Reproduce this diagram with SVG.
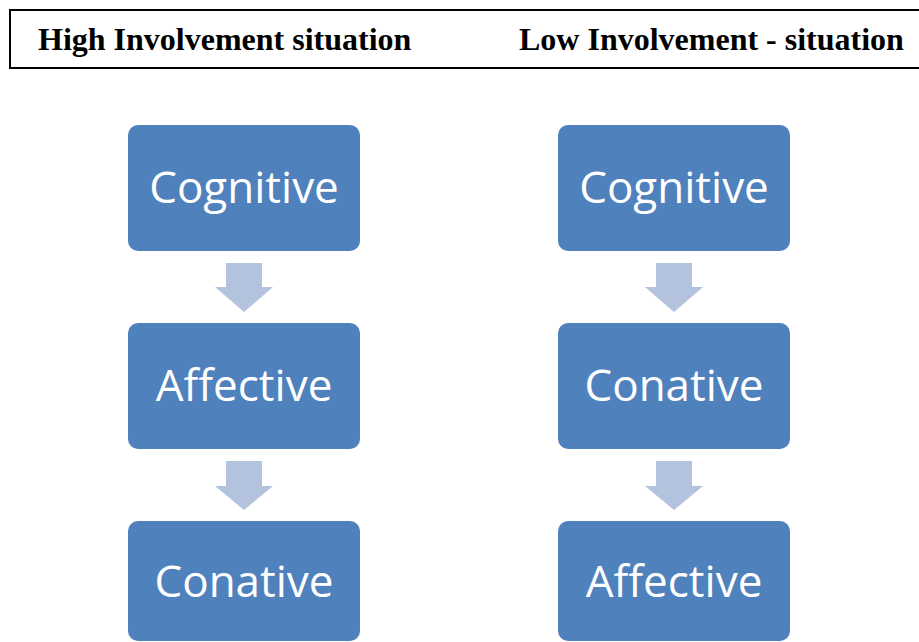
<svg xmlns="http://www.w3.org/2000/svg" width="919" height="642" viewBox="0 0 919 642">
<style>
.hdr{font-family:"Liberation Serif","Times New Roman",serif;font-weight:bold;font-size:32px;fill:#000}
.box{fill:#4F81BD}
.lbl{font-family:"Open Sans","Noto Sans",sans-serif;font-size:44px;fill:#fff;text-anchor:middle}
.arr{fill:#B3C3DD}
</style>
<rect width="919" height="642" fill="#fff"/>
<g id="header">
<rect x="10" y="10" width="930" height="58" fill="none" stroke="#000" stroke-width="2"/>
<text class="hdr" x="38" y="50">High Involvement situation</text>
<text class="hdr" x="519" y="50">Low Involvement - situation</text>
</g>
<g id="connectors">
<path class="arr" d="M226,263 H262 V287 H273 L244,312 L215,287 H226 Z"/>
<path class="arr" d="M226,461 H262 V486 H273 L244,510 L215,486 H226 Z"/>
<path class="arr" d="M656,263 H692 V287 H703 L674,312 L645,287 H656 Z"/>
<path class="arr" d="M656,461 H692 V486 H703 L674,510 L645,486 H656 Z"/>
</g>
<g id="high-cognitive"><rect class="box" x="128" y="125" width="232" height="126" rx="10"/><text class="lbl" x="244" y="203">Cognitive</text></g>
<g id="high-affective"><rect class="box" x="128" y="323" width="232" height="126" rx="10"/><text class="lbl" x="244" y="401">Affective</text></g>
<g id="high-conative"><rect class="box" x="128" y="521" width="232" height="120" rx="10"/><text class="lbl" x="244" y="597">Conative</text></g>
<g id="low-cognitive"><rect class="box" x="558" y="125" width="232" height="126" rx="10"/><text class="lbl" x="674" y="203">Cognitive</text></g>
<g id="low-conative"><rect class="box" x="558" y="323" width="232" height="126" rx="10"/><text class="lbl" x="674" y="401">Conative</text></g>
<g id="low-affective"><rect class="box" x="558" y="521" width="232" height="120" rx="10"/><text class="lbl" x="674" y="597">Affective</text></g>
</svg>
